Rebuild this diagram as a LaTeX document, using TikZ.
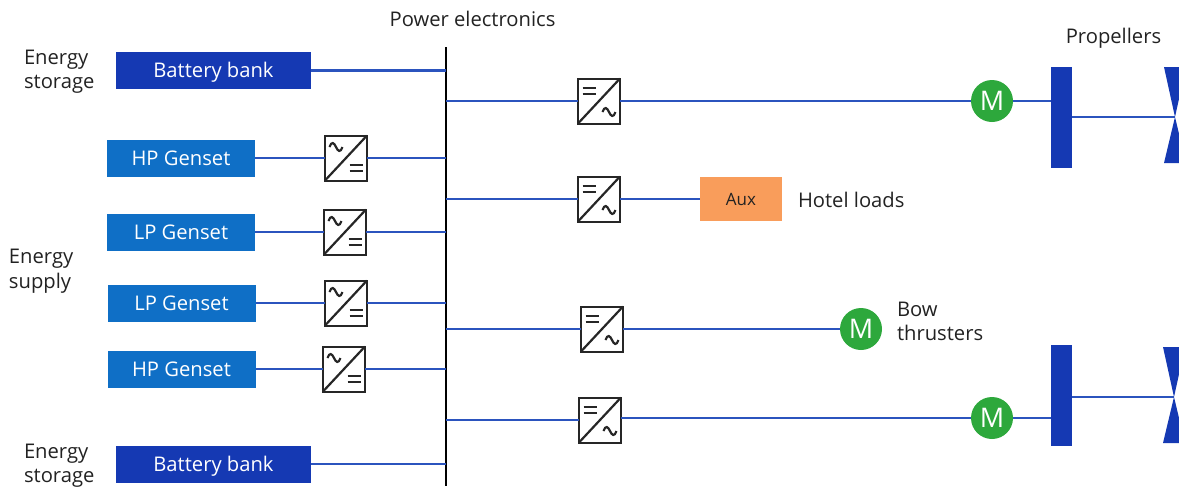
\documentclass[tikz,border=0pt]{standalone}
\usepackage{fontspec}
\setmainfont{Open Sans}
\definecolor{batblue}{HTML}{1539B3}
\definecolor{genblue}{HTML}{0F6FC6}
\definecolor{linkblue}{HTML}{2B54BE}
\definecolor{motorgreen}{HTML}{2DA83C}
\definecolor{auxorange}{HTML}{F99D5B}
\definecolor{labelink}{HTML}{222222}
\tikzset{
 every node/.style={inner sep=0pt,outer sep=0pt,font=\fontsize{20.2}{24.6}\selectfont,text=labelink},
 link/.style={draw=linkblue,line width=2.1pt},
 blockbox/.style={rectangle,text=white,minimum width=#1,text height=14.5pt,text depth=0pt},
 batbox/.style={blockbox=195pt,fill=batblue,minimum height=37pt},
 genbox/.style={blockbox=148pt,fill=genblue,minimum height=37pt},
 gearbox/.style={rectangle,fill=batblue,minimum width=21pt,minimum height=101pt},
 motor/.style={circle,fill=motorgreen,minimum size=42pt,text=white,font=\fontsize{27}{27}\selectfont},
 lbl/.style={align=left,anchor=west},
 conv/.style={rectangle,draw=black!85,line width=2pt,fill=white,minimum width=42pt,minimum height=45pt},
 sym/.style={draw=black!85,line width=2.2pt},
 prop/.style={fill=batblue},
 pics/wave/.style={code={\draw[sym] (-6.5,0) .. controls (-4.5,-6) and (-2,-4.5) .. (0,0) .. controls (2,4.5) and (4.5,6) .. (6.5,0);}},
 pics/eqs/.style={code={\draw[sym] (-6.5,-2.8) -- (6.5,-2.8) (-6.5,2.8) -- (6.5,2.8);}}
}
\newcommand{\convAC}[2]{% ac on the upper left
 \node[conv] (#1) at (#2) {};
 \draw[sym] (#1.south west) -- (#1.north east);
 \path (#1.center) ++(-10,-11) pic {wave};
 \path (#1.center) ++(10,10) pic {eqs};
}
\newcommand{\convDC}[2]{% dc on the upper left
 \node[conv] (#1) at (#2) {};
 \draw[sym] (#1.south west) -- (#1.north east);
 \path (#1.center) ++(-10,-10) pic {eqs};
 \path (#1.center) ++(10,11) pic {wave};
}
\begin{document}
\begin{tikzpicture}[x=1pt,y=-1pt]
\useasboundingbox (0,0) rectangle (1179,488);
\clip (0,0) rectangle (1179,488);
% bus
\node[rectangle,fill=black,minimum width=2.8pt,minimum height=439pt] (bus) at (446,266.5) {};
% sources
\node[batbox] (bat1) at (213.5,70.5) {Battery bank};
\node[batbox] (bat2) at (213.5,464) {Battery bank};
\node[genbox] (hp1) at (181,158) {HP Genset};
\node[genbox] (lp1) at (181,232) {LP Genset};
\node[genbox] (lp2) at (181.5,303) {LP Genset};
\node[genbox] (hp2) at (181.5,369) {HP Genset};
\convAC{c1}{346,158}
\convAC{c2}{345,232}
\convAC{c3}{346,303}
\convAC{c4}{344,369}
\convDC{d1}{599,101}
\convDC{d2}{599,199}
\convDC{d3}{602,329}
\convDC{d4}{600,420}
% loads
\node[rectangle,fill=auxorange,minimum width=82pt,minimum height=44pt,font=\fontsize{17}{20}\selectfont] (aux) at (741,199) {Aux};
\node[motor] (m1) at (992,101) {M};
\node[motor] (m2) at (861,329) {M};
\node[motor] (m3) at (992,418) {M};
\node[gearbox] (g1) at (1061.5,117.5) {};
\node[gearbox] (g2) at (1061.5,395) {};
\coordinate (hub1) at (1175,117);
\coordinate (hub2) at (1174,397);
\fill[prop] (1164,67) -- (hub1) -- (1164,163) -- (1186,163) -- (hub1) -- (1186,67) -- cycle;
\fill[prop] (1163,347) -- (hub2) -- (1163,443) -- (1185,443) -- (hub2) -- (1185,347) -- cycle;
% connectors
\draw[link] (bat1.east) -- (bat1.east -| bus.center);
\draw[link] (bat2.east) -- (bat2.east -| bus.center);
\foreach \g/\c in {hp1/c1,lp1/c2,lp2/c3,hp2/c4}{
 \draw[link] (\g.east) -- (\c.west);
 \draw[link] (\c.east) -- (\c.east -| bus.center);
}
\foreach \c in {d1,d2,d3,d4}{
 \draw[link] (\c.west -| bus.center) -- (\c.west);
}
\draw[link] (d1.east) -- (m1.west);
\draw[link] (d2.east) -- (aux.west);
\draw[link] (d3.east) -- (m2.west);
\draw[link] (m3.west -| d4.east) -- (m3.west);
\draw[link] (m1.east) -- (m1.east -| g1.west);
\draw[link] (m3.east) -- (m3.east -| g2.west);
\draw[link] (g1.east |- hub1) -- (hub1);
\draw[link] (g2.east |- hub2) -- (hub2);
% labels
\node (tpe) at (472.5,18.5) {Power electronics};
\node (tpr) at (1113.5,38.5) {Propellers};
\node[lbl] (tes1) at (24,71.8) {Energy\\storage};
\node[lbl] (tsup) at (9,271.5) {Energy\\supply};
\node[lbl] (tes2) at (24,465.8) {Energy\\storage};
\node[lbl] (thot) at (798,199.5) {Hotel loads};
\node[lbl] (tbow) at (897,321.5) {Bow\\thrusters};
\end{tikzpicture}
\end{document}
